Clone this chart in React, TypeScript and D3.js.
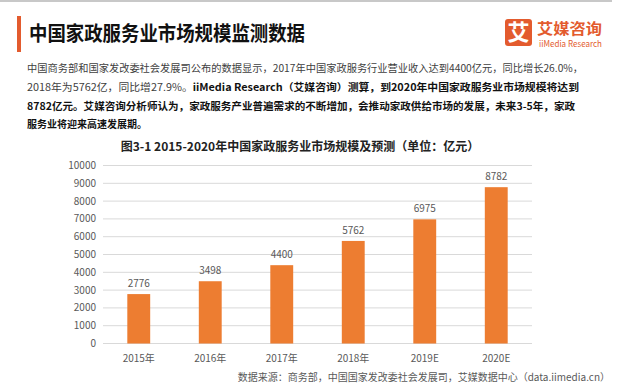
import React from "react";
import * as d3 from "d3";

const categories = ["2015年", "2016年", "2017年", "2018年", "2019E", "2020E"];
const values = [2776, 3498, 4400, 5762, 6975, 8782];
const yTicks = [0, 1000, 2000, 3000, 4000, 5000, 6000, 7000, 8000, 9000, 10000];

const pageTitle = "中国家政服务业市场规模监测数据";
const chartTitle = "图3-1 2015-2020年中国家政服务业市场规模及预测（单位：亿元）";
const sourceText = "数据来源：商务部，中国国家发改委社会发展司，艾媒数据中心（data.iimedia.cn）";
const para1 = "中国商务部和国家发改委社会发展司公布的数据显示，2017年中国家政服务行业营业收入达到4400亿元，同比增长26.0%，";
const para2a = "2018年为5762亿，同比增27.9%。";
const para2b = "iiMedia Research（艾媒咨询）测算，到2020年中国家政服务业市场规模将达到";
const para3 = "8782亿元。艾媒咨询分析师认为，家政服务产业普遍需求的不断增加，会推动家政供给市场的发展，未来3-5年，家政";
const para4 = "服务业将迎来高速发展期。";

const FONT = "'Noto Sans CJK SC', 'Noto Sans', sans-serif";
const BAR = "#ED7D31";
const BRAND = "#E35B2E";

export default function App() {
  const W = 622, H = 386;
  const x = d3.scaleBand<string>().domain(categories).range([103, 532]).paddingInner(0.68).paddingOuter(0.34);
  const y = d3.scaleLinear().domain([0, 10000]).range([343.5, 165.5]);

  return (
    <svg width={W} height={H} style={{ position: "absolute", left: 0, top: 0, background: "#fff" }} fontFamily={FONT}>
      <rect x={0} y={0} width={W} height={H} fill="#fff" />
      <line x1={0} x2={612} y1={1} y2={1} stroke="#c8c8c8" strokeWidth={2} />
      <rect x={17} y={16} width={4} height={36} fill={BRAND} />
      <text x={29} y={41} fontSize={20} fontWeight="bold" fill="#111" textLength={276} lengthAdjust="spacingAndGlyphs">{pageTitle}</text>

      {/* logo */}
      <rect x={505} y={19} width={27} height={27} rx={3} fill={BRAND} />
      <text x={518.5} y={40} fontSize={22} fontWeight="bold" fill="#fff" textAnchor="middle">艾</text>
      <text x={537} y={34} fontSize={15} fontWeight="bold" fill={BRAND} textLength={65} lengthAdjust="spacingAndGlyphs">艾媒咨询</text>
      <text x={539} y={46.5} fontSize={8.5} fill={BRAND} textLength={63} lengthAdjust="spacingAndGlyphs">iiMedia Research</text>

      {/* paragraph */}
      <text x={27} y={71.5} fontSize={10} fill="#404040" textLength={556} lengthAdjust="spacingAndGlyphs">{para1}</text>
      <text x={27} y={90.5} fontSize={10} textLength={552} lengthAdjust="spacingAndGlyphs">
        <tspan fill="#404040">{para2a}</tspan>
        <tspan fill="#111" fontWeight="bold">{para2b}</tspan>
      </text>
      <text x={27} y={109.5} fontSize={10} fill="#111" fontWeight="bold" textLength={548} lengthAdjust="spacingAndGlyphs">{para3}</text>
      <text x={27} y={127.5} fontSize={10} fill="#111" fontWeight="bold">{para4}</text>

      {/* chart title */}
      <text x={300} y={151} fontSize={12} fontWeight="bold" fill="#222" textAnchor="middle">{chartTitle}</text>

      {/* grid + y axis */}
      {yTicks.map((t) => (
        <g key={t}>
          <line x1={103} x2={532} y1={y(t)} y2={y(t)} stroke="#d9d9d9" strokeWidth={1} />
          <text x={96} y={y(t)} dy="0.35em" fontSize={10} fill="#595959" textAnchor="end">{t}</text>
        </g>
      ))}

      {/* bars */}
      {categories.map((c, i) => (
        <g key={c}>
          <rect x={x(c)} y={y(values[i])} width={x.bandwidth()} height={y(0) - y(values[i])} fill={BAR} />
          <text x={(x(c) as number) + x.bandwidth() / 2} y={y(values[i]) - 7} fontSize={10} fill="#595959" textAnchor="middle">{values[i]}</text>
          <text x={(x(c) as number) + x.bandwidth() / 2} y={362} fontSize={10} fill="#595959" textAnchor="middle">{c}</text>
        </g>
      ))}

      <text x={610} y={381} fontSize={10} fill="#595959" textAnchor="end">{sourceText}</text>
    </svg>
  );
}
